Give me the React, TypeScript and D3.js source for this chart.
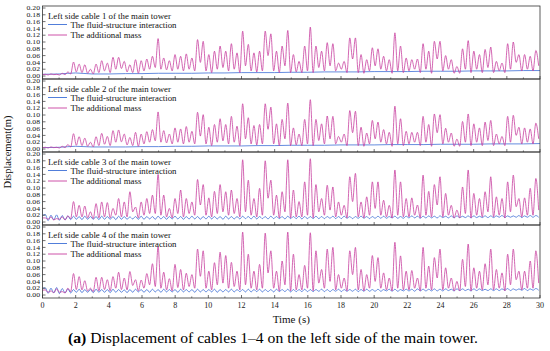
import React from 'react';
import * as d3 from 'd3';

// half period between a trough sample and the next peak sample (s)
const halfStep = 0.17;
const fsiStep = 1;

const xTickValues = d3.range(0, 31, 2);
const xMinorValues = d3.range(1, 30, 2);
const yTickValues = d3.range(0, 0.201, 0.02);

const panelTitles = [
  'Left side cable 1 of the main tower',
  'Left side cable 2 of the main tower',
  'Left side cable 3 of the main tower',
  'Left side cable 4 of the main tower',
];
const legendLabels = ['The fluid-structure interaction', 'The additional mass'];

// additional mass model: peak and trough values (m)
const cable1Peaks = [
  .005, .006, .005, .008, .012, .041, .035, .033, .020, .035,
  .045, .038, .055, .055, .043, .033, .048, .045, .050, .058,
  .110, .053, .045, .063, .058, .065, .053, .107, .102, .063,
  .073, .088, .073, .095, .068, .132, .093, .068, .073, .132,
  .124, .073, .088, .134, .063, .043, .088, .144, .088, .073,
  .098, .095, .038, .043, .112, .112, .063, .048, .083, .080,
  .058, .048, .127, .088, .053, .048, .050, .095, .073, .102,
  .102, .060, .048, .028, .080, .104, .073, .063, .078, .085,
  .043, .038, .095, .100, .063, .063, .058, .075,
];
const cable1Troughs = [
  .004, .003, .004, .003, .004, .006, .012, .010, .008, .006,
  .010, .015, .010, .020, .022, .012, .010, .008, .015, .020,
  .025, .020, .018, .015, .020, .015, .020, .015, .040, .015,
  .010, .020, .025, .015, .020, .010, .030, .015, .012, .015,
  .060, .015, .010, .030, .010, .012, .010, .015, .010, .025,
  .015, .030, .015, .020, .010, .050, .010, .008, .015, .030,
  .020, .015, .008, .015, .010, .015, .020, .010, .020, .008,
  .050, .015, .020, .008, .008, .020, .010, .020, .010, .025,
  .010, .015, .010, .020, .040, .015, .020, .015, .030,
];
const cable2Peaks = [
  .005, .006, .005, .008, .013, .045, .036, .032, .020, .036,
  .046, .037, .054, .056, .044, .034, .049, .044, .051, .057,
  .109, .054, .044, .062, .059, .066, .052, .108, .101, .064,
  .072, .089, .072, .096, .067, .133, .092, .069, .072, .133,
  .123, .074, .087, .135, .062, .044, .087, .145, .087, .074,
  .097, .096, .037, .044, .113, .111, .064, .047, .084, .079,
  .057, .049, .126, .089, .052, .049, .049, .096, .072, .103,
  .101, .061, .047, .029, .081, .103, .074, .062, .079, .084,
  .044, .037, .096, .099, .064, .062, .059, .076,
];
const cable2Troughs = [
  .004, .003, .004, .003, .004, .006, .011, .010, .008, .006,
  .010, .014, .010, .020, .021, .012, .010, .008, .015, .020,
  .024, .020, .018, .015, .020, .015, .020, .015, .038, .015,
  .010, .020, .024, .015, .020, .010, .030, .015, .012, .015,
  .058, .015, .010, .030, .010, .012, .010, .015, .010, .025,
  .015, .030, .015, .020, .010, .048, .010, .008, .015, .030,
  .020, .015, .008, .015, .010, .015, .020, .010, .020, .008,
  .048, .015, .020, .008, .008, .020, .010, .020, .010, .025,
  .010, .015, .010, .020, .040, .015, .020, .015, .030,
];
const cable3Peaks = [
  .012, .015, .010, .015, .018, .060, .049, .047, .030, .054,
  .059, .057, .040, .069, .059, .089, .044, .059, .069, .079,
  .140, .079, .040, .069, .094, .069, .059, .125, .110, .071,
  .090, .110, .089, .094, .069, .183, .123, .069, .099, .180,
  .123, .079, .089, .183, .094, .060, .118, .186, .110, .069,
  .108, .103, .059, .049, .133, .143, .059, .074, .118, .118,
  .064, .049, .153, .118, .069, .071, .050, .138, .090, .110,
  .133, .084, .049, .035, .103, .153, .084, .069, .089, .133,
  .074, .069, .118, .138, .069, .071, .099, .128,
];
const cable3Troughs = [
  .012, .008, .006, .008, .006, .010, .015, .015, .012, .010,
  .012, .015, .012, .020, .015, .015, .030, .012, .020, .025,
  .025, .020, .015, .012, .025, .015, .025, .020, .050, .020,
  .015, .025, .030, .020, .025, .015, .030, .020, .015, .020,
  .070, .020, .012, .030, .012, .015, .015, .020, .012, .030,
  .020, .035, .015, .020, .012, .060, .015, .012, .020, .040,
  .020, .015, .012, .020, .015, .015, .020, .012, .020, .015,
  .050, .015, .020, .012, .012, .025, .012, .020, .015, .030,
  .015, .020, .012, .030, .045, .015, .020, .020, .035,
];
const cable4Peaks = [
  .015, .012, .018, .010, .020, .063, .054, .042, .020, .052,
  .052, .045, .054, .067, .050, .069, .045, .044, .063, .092,
  .143, .067, .048, .090, .075, .064, .060, .135, .130, .070,
  .095, .126, .116, .096, .070, .185, .120, .070, .090, .182,
  .130, .070, .100, .185, .120, .060, .087, .183, .130, .075,
  .135, .140, .060, .050, .130, .140, .075, .060, .116, .110,
  .065, .050, .155, .115, .070, .072, .050, .140, .085, .110,
  .135, .080, .050, .040, .105, .150, .080, .070, .092, .135,
  .075, .065, .120, .135, .070, .070, .100, .130,
];
const cable4Troughs = [
  .014, .008, .007, .008, .006, .010, .016, .015, .012, .010,
  .012, .016, .012, .020, .016, .015, .028, .012, .020, .030,
  .025, .020, .015, .012, .022, .015, .025, .020, .055, .020,
  .015, .030, .035, .020, .025, .015, .030, .020, .015, .020,
  .065, .020, .012, .030, .012, .015, .015, .020, .012, .035,
  .020, .040, .015, .020, .012, .060, .015, .012, .020, .040,
  .020, .015, .012, .020, .015, .015, .020, .012, .020, .015,
  .050, .015, .020, .012, .012, .025, .012, .020, .015, .030,
  .015, .020, .012, .030, .045, .015, .020, .020, .035,
];

// fluid-structure interaction model (m)
const cable1Fsi = [
  .005, .006, .009, .006, .006, .007, .007, .008, .008, .008,
  .009, .009, .010, .010, .010, .011, .011, .012, .012, .012,
  .013, .013, .013, .014, .014, .014, .015, .015, .015, .016, .016,
];
const cable2Fsi = [
  .004, .005, .008, .006, .006, .006, .007, .007, .008, .008,
  .009, .009, .009, .010, .010, .011, .011, .011, .012, .012,
  .012, .013, .013, .013, .014, .014, .014, .015, .015, .015, .016,
];
const cable3FsiPeaks = [
  .022, .020, .021, .019, .018, .017, .016, .017, .016, .016,
  .017, .016, .016, .017, .016, .015, .016, .017, .016, .016,
  .017, .016, .016, .017, .016, .016, .017, .016, .016, .017,
  .016, .016, .017, .016, .016, .017, .016, .017, .016, .016,
  .017, .016, .016, .017, .016, .017, .016, .016, .017, .016,
  .016, .017, .016, .017, .016, .016, .017, .016, .016, .017,
  .017, .016, .017, .016, .017, .018, .017, .017, .018, .017,
  .018, .017, .018, .018, .017, .018, .018, .017, .018, .018,
  .018, .019, .018, .018, .019, .018, .019, .019,
];
const cable3FsiTroughs = [
  .019, .004, .006, .005, .006, .007, .008, .007, .008, .008,
  .007, .008, .008, .007, .008, .008, .009, .008, .008, .009,
  .008, .009, .008, .009, .009, .008, .009, .009, .008, .009,
  .009, .009, .008, .009, .009, .009, .010, .009, .009, .010,
  .009, .010, .010, .009, .010, .010, .009, .010, .010, .010,
  .010, .011, .010, .010, .011, .010, .011, .011, .010, .011,
  .011, .011, .012, .011, .011, .012, .012, .011, .012, .012,
  .012, .013, .012, .012, .013, .013, .012, .013, .013, .013,
  .013, .014, .013, .014, .014, .013, .014, .014, .014,
];
const cable4FsiPeaks = [
  .021, .020, .022, .019, .018, .016, .017, .016, .016, .017,
  .016, .016, .017, .016, .015, .016, .017, .016, .016, .017,
  .016, .017, .016, .016, .017, .016, .016, .017, .016, .016,
  .017, .016, .016, .017, .016, .016, .017, .016, .017, .016,
  .016, .017, .016, .017, .016, .016, .017, .016, .016, .017,
  .016, .016, .017, .016, .016, .017, .016, .017, .016, .017,
  .016, .017, .017, .016, .017, .017, .018, .017, .017, .018,
  .017, .018, .017, .018, .018, .017, .018, .018, .017, .018,
  .018, .018, .019, .018, .018, .019, .018, .019,
];
const cable4FsiTroughs = [
  .020, .005, .006, .004, .006, .006, .008, .007, .008, .007,
  .008, .008, .007, .008, .008, .007, .008, .009, .008, .008,
  .009, .008, .009, .009, .008, .009, .009, .008, .009, .009,
  .009, .008, .009, .009, .009, .010, .009, .009, .010, .009,
  .010, .009, .010, .010, .009, .010, .010, .010, .010, .011,
  .010, .010, .011, .010, .011, .011, .010, .011, .011, .011,
  .011, .012, .011, .011, .012, .012, .011, .012, .012, .012,
  .012, .012, .013, .012, .013, .013, .012, .013, .013, .013,
  .013, .013, .014, .013, .014, .014, .013, .014, .014,
];

type Pt = { t: number; v: number };

function alternate(troughs: number[], peaks: number[], step: number): Pt[] {
  const pts: Pt[] = [];
  const n = troughs.length + peaks.length;
  for (let i = 0; i < n; i++) {
    const v = i % 2 === 0 ? troughs[i / 2] : peaks[(i - 1) / 2];
    if (v === undefined) continue;
    pts.push({ t: i * step, v });
  }
  return pts;
}

function even(values: number[], step: number): Pt[] {
  return values.map((v, i) => ({ t: i * step, v }));
}

const panels = [
  { title: panelTitles[0], fsi: even(cable1Fsi, fsiStep), mass: alternate(cable1Troughs, cable1Peaks, halfStep) },
  { title: panelTitles[1], fsi: even(cable2Fsi, fsiStep), mass: alternate(cable2Troughs, cable2Peaks, halfStep) },
  { title: panelTitles[2], fsi: alternate(cable3FsiTroughs, cable3FsiPeaks, halfStep), mass: alternate(cable3Troughs, cable3Peaks, halfStep) },
  { title: panelTitles[3], fsi: alternate(cable4FsiTroughs, cable4FsiPeaks, halfStep), mass: alternate(cable4Troughs, cable4Peaks, halfStep) },
];

const W = 550;
const H = 351;
const left = 42.5;
const right = 540;
const top0 = 6;
const panelH = 73;
const blue = '#3d6fd6';
const pink = '#c8409f';
const frame = '#333';
const font = 'Liberation Serif, serif';

const x = d3.scaleLinear().domain([0, 30]).range([left, right]);

export default function App() {
  const fmt = d3.format('.2f');
  const bottom = top0 + panelH * panels.length;
  return (
    <svg width={W} height={H} style={{ position: 'absolute', left: 0, top: 0, background: '#fff', fontFamily: font }}>
      <defs>
        {panels.map((_, i) => (
          <clipPath id={`clip${i}`} key={i}>
            <rect x={left} y={top0 + i * panelH} width={right - left} height={panelH} />
          </clipPath>
        ))}
      </defs>
      {panels.map((p, i) => {
        const top = top0 + i * panelH;
        const y = d3.scaleLinear().domain([0, 0.2]).range([top + 70, top + 2]);
        const line = d3.line<Pt>().x(d => x(d.t)).y(d => y(d.v)).curve(d3.curveMonotoneX);
        return (
          <g key={i}>
            <g clipPath={`url(#clip${i})`}>
              <path d={line(p.fsi) || ''} fill="none" stroke={blue} strokeWidth={0.8} />
              <path d={line(p.mass) || ''} fill="none" stroke={pink} strokeWidth={0.8} />
            </g>
            <rect x={left} y={top} width={right - left} height={panelH} fill="none" stroke={frame} strokeWidth={0.8} />
            {yTickValues.map(v => (
              <g key={v}>
                <line x1={left} x2={left + 3} y1={y(v)} y2={y(v)} stroke={frame} strokeWidth={0.7} />
                <text x={left - 2.5} y={y(v)} dy="0.33em" textAnchor="end" fontSize={6.6} fill="#222" textLength={13.5} lengthAdjust="spacingAndGlyphs">{fmt(v)}</text>
              </g>
            ))}
            {xTickValues.map(v => (
              <line key={v} x1={x(v)} x2={x(v)} y1={top + panelH} y2={top + panelH - 3} stroke={frame} strokeWidth={0.7} />
            ))}
            {xMinorValues.map(v => (
              <line key={v} x1={x(v)} x2={x(v)} y1={top + panelH} y2={top + panelH - 1.6} stroke={frame} strokeWidth={0.6} />
            ))}
            <text x={48} y={top + 12.5} fontSize={8.8} fill="#111">{p.title}</text>
            {legendLabels.map((lab, j) => (
              <g key={lab}>
                <line x1={48} x2={67} y1={top + 18.5 + j * 10.5} y2={top + 18.5 + j * 10.5} stroke={j === 0 ? blue : pink} strokeWidth={0.9} />
                <text x={70.5} y={top + 21.5 + j * 10.5} fontSize={8.8} fill="#111">{lab}</text>
              </g>
            ))}
          </g>
        );
      })}
      {xTickValues.map(v => (
        <text key={v} x={x(v)} y={bottom + 10} textAnchor="middle" fontSize={8} fill="#222">{v}</text>
      ))}
      <text x={(left + right) / 2} y={bottom + 25} textAnchor="middle" fontSize={11} fill="#111">Time (s)</text>
      <text transform={`translate(11,${(top0 + bottom) / 2}) rotate(-90)`} textAnchor="middle" fontSize={10.5} fill="#111">Displacement(m)</text>
      <text x={68} y={343} fontSize={15} fill="#000" textLength={410} lengthAdjust="spacingAndGlyphs">
        <tspan fontWeight="bold">(a)</tspan> Displacement of cables 1–4 on the left side of the main tower.
      </text>
    </svg>
  );
}
